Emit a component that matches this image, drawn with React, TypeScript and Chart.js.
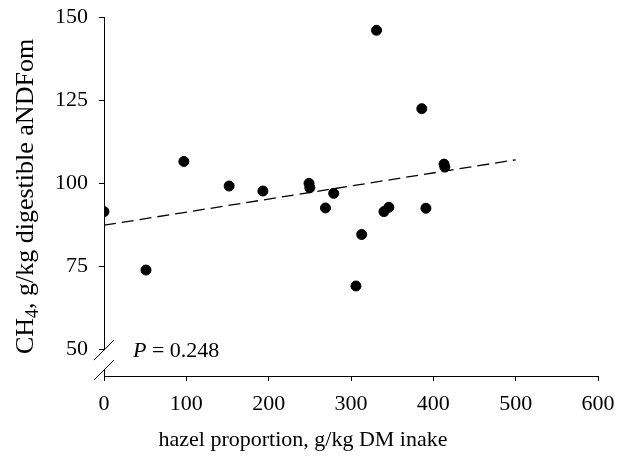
import React, { useEffect, useRef } from "react";
import { Chart, registerables } from "chart.js";

Chart.register(...registerables);

const hazelProportion = [0, 51, 97, 152, 193, 249, 250, 269, 279, 306, 313, 331, 340, 346, 386, 391, 413, 414];
const ch4Values = [91.4, 73.8, 106.5, 99.1, 97.6, 99.9, 98.6, 92.5, 96.9, 69.0, 84.5, 146.0, 91.4, 92.7, 122.4, 92.4, 105.7, 104.8];
const trendX = [0, 500];
const trendY = [87.3, 107.0];
const xTicks = [0, 100, 200, 300, 400, 500, 600];
const yTicks = [50, 75, 100, 125, 150];
const xTitle = "hazel proportion, g/kg DM inake";
const yTitleParts = ["CH", "4", ", g/kg digestible aNDFom"];
const pLabel = ["P", " = 0.248"];

const FONT = "'Liberation Serif', 'Times New Roman', serif";

const overlayPlugin = {
  id: "overlay",
  afterDraw(chart: any) {
    const ctx = chart.ctx as CanvasRenderingContext2D;
    const area = chart.chartArea;
    const y = chart.scales.y;
    const x = chart.scales.x;
    ctx.save();
    // axis break
    const yb1 = y.getPixelForValue(50) + 1;
    const yb2 = area.bottom - 6;
    ctx.fillStyle = "#fff";
    ctx.fillRect(area.left - 6, yb1, 8, yb2 - yb1);
    ctx.strokeStyle = "#000";
    ctx.lineWidth = 1;
    const cx = area.left;
    [yb1, yb2].forEach((cy) => {
      ctx.beginPath();
      ctx.moveTo(cx - 10, cy + 10);
      ctx.lineTo(cx + 10, cy - 10);
      ctx.stroke();
    });
    // P label
    ctx.fillStyle = "#000";
    ctx.textBaseline = "alphabetic";
    ctx.textAlign = "left";
    ctx.font = `italic 22px ${FONT}`;
    const px = x.getPixelForValue(0) + 29;
    const py = 357;
    ctx.fillText(pLabel[0], px, py);
    const pw = ctx.measureText(pLabel[0]).width;
    ctx.font = `22px ${FONT}`;
    ctx.fillText(pLabel[1], px + pw, py);
    // x title
    ctx.font = `22px ${FONT}`;
    ctx.textAlign = "center";
    ctx.fillText(xTitle, 303, 446);
    // y title
    ctx.translate(33, (area.top + area.bottom) / 2);
    ctx.rotate(-Math.PI / 2);
    ctx.textAlign = "left";
    const big = `26px ${FONT}`;
    const small = `18px ${FONT}`;
    ctx.font = big;
    const w0 = ctx.measureText(yTitleParts[0]).width;
    ctx.font = small;
    const w1 = ctx.measureText(yTitleParts[1]).width;
    ctx.font = big;
    const w2 = ctx.measureText(yTitleParts[2]).width;
    const start = -(w0 + w1 + w2) / 2;
    ctx.fillText(yTitleParts[0], start, 0);
    ctx.font = small;
    ctx.fillText(yTitleParts[1], start + w0, 5);
    ctx.font = big;
    ctx.fillText(yTitleParts[2], start + w0 + w1, 0);
    ctx.restore();
  },
};

export default function App() {
  const ref = useRef<HTMLCanvasElement | null>(null);
  useEffect(() => {
    if (!ref.current) return;
    const chart = new Chart(ref.current, {
      type: "scatter",
      data: {
        datasets: [
          {
            type: "scatter",
            data: hazelProportion.map((v, i) => ({ x: v, y: ch4Values[i] })),
            backgroundColor: "#000",
            borderColor: "#000",
            pointRadius: 5,
            order: 1,
          },
          {
            type: "line",
            data: trendX.map((v, i) => ({ x: v, y: trendY[i] })),
            borderColor: "#000",
            borderWidth: 1.3,
            borderDash: [12, 6],
            pointRadius: 0,
            fill: false,
            order: 2,
          },
        ],
      },
      options: {
        responsive: false,
        animation: false,
        layout: { padding: { top: 17, right: 24, left: 0, bottom: 0 } },
        plugins: { legend: { display: false }, tooltip: { enabled: false } },
        scales: {
          x: {
            type: "linear",
            min: 0,
            max: 600,
            afterBuildTicks: (s: any) => {
              s.ticks = xTicks.map((v) => ({ value: v }));
            },
            afterFit: (s: any) => {
              s.height = 86;
              s.paddingLeft = 0;
              s.paddingRight = 0;
            },
            ticks: { font: { family: FONT, size: 22, lineHeight: 1 }, color: "#000", padding: 12 },
            grid: { drawOnChartArea: false, drawTicks: true, tickLength: 5, color: "#000" },
            border: { display: true, color: "#000", width: 1 },
          },
          y: {
            type: "linear",
            min: 41.9,
            max: 150,
            afterBuildTicks: (s: any) => {
              s.ticks = yTicks.map((v) => ({ value: v }));
            },
            afterFit: (s: any) => {
              s.width = 104;
              s.paddingTop = 0;
              s.paddingBottom = 0;
            },
            ticks: { font: { family: FONT, size: 22, lineHeight: 1 }, color: "#000", padding: 11 },
            grid: { drawOnChartArea: false, drawTicks: true, tickLength: 5, color: "#000" },
            border: { display: true, color: "#000", width: 1 },
          },
        },
      },
      plugins: [overlayPlugin],
    } as any);
    return () => chart.destroy();
  }, []);
  return (
    <div style={{ position: "fixed", left: 0, top: 0, width: 622, height: 462, background: "#fff" }}>
      <canvas ref={ref} width={622} height={462} />
    </div>
  );
}
